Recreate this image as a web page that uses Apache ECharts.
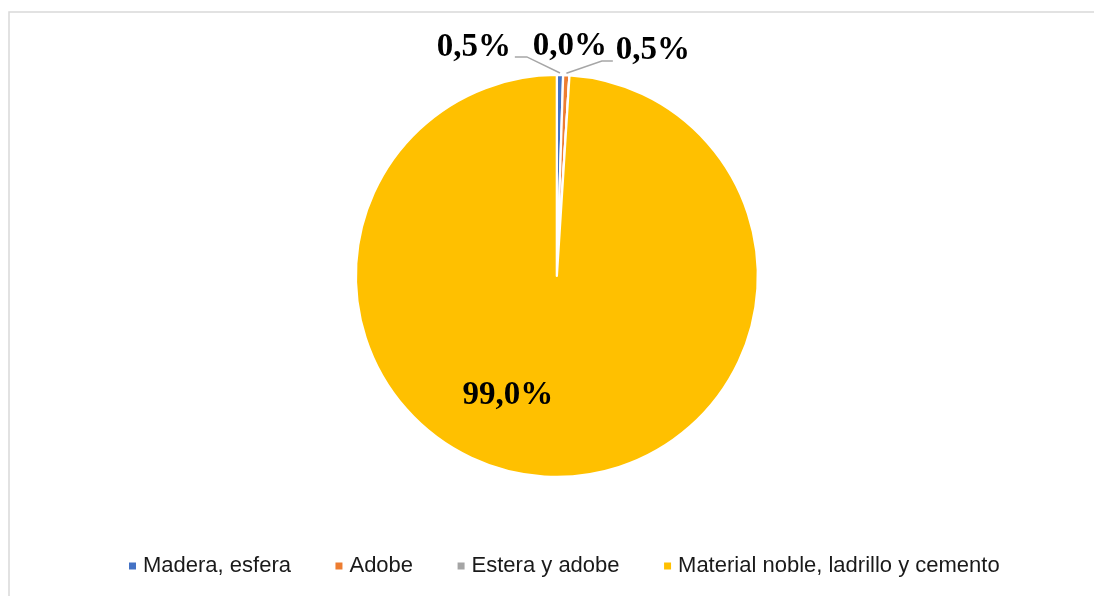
<!DOCTYPE html>
<html>
<head>
<meta charset="utf-8">
<script src="https://cdn.jsdelivr.net/npm/echarts@6/dist/echarts.min.js"></script>
<style>
  html, body { margin: 0; padding: 0; background: #fff; }
  #chart { width: 1094px; height: 596px; }
</style>
</head>
<body>
<div id="chart"></div>
<script>
// Tipo de material de la vivienda (porcentaje)
const categories = ['Madera, esfera', 'Adobe', 'Estera y adobe', 'Material noble, ladrillo y cemento'];
const values = [0.5, 0.5, 0.0, 99.0];
const colors = ['#4472C4', '#ED7D31', '#A5A5A5', '#FFC000'];

// Label placement, as offsets from the pie centre (px)
const labelOffsets = [[-83, -228.5], [96, -225], [13, -229.5], [-49, 119.5]];
// Leader-line elbows and ends, relative to the pie centre
const leaderPaths = {
  0: [[-30, -219], [-42, -219]],
  1: [[45, -215], [56, -215]]
};

const chart = echarts.init(document.getElementById('chart'));
const centerPct = [50.9, 46.3];
const radius = 201;

function pieCenter() {
  return [chart.getWidth() * centerPct[0] / 100, chart.getHeight() * centerPct[1] / 100];
}

function sliceEdge(idx) {
  const total = values.reduce((a, b) => a + b, 0);
  let before = 0;
  for (let i = 0; i < idx; i++) before += values[i];
  const mid = (before + values[idx] / 2) / total * 2 * Math.PI;
  const [cx, cy] = pieCenter();
  return [cx + (radius + 2) * Math.sin(mid), cy - (radius + 2) * Math.cos(mid)];
}

const fmt = v => v.toFixed(1).replace('.', ',') + '%';

chart.setOption({
  animation: false,
  graphic: [{
    type: 'rect',
    shape: { x: 9, y: 12, width: 1110, height: 620 },
    style: { fill: 'none', stroke: '#d9d9d9', lineWidth: 1.5 },
    silent: true
  }],
  color: colors,
  legend: {
    data: categories,
    left: 122,
    top: 550,
    icon: 'rect',
    itemWidth: 9,
    itemHeight: 9,
    itemGap: 42.5,
    textStyle: {
      fontFamily: 'Liberation Sans, Arial, sans-serif',
      fontSize: 22,
      color: '#1a1a1a',
      padding: [0, 0, 0, 1]
    }
  },
  series: [{
    type: 'pie',
    center: [centerPct[0] + '%', centerPct[1] + '%'],
    radius: radius,
    startAngle: 90,
    clockwise: true,
    avoidLabelOverlap: false,
    stillShowZeroSum: true,
    minShowLabelAngle: 0,
    itemStyle: { borderColor: '#ffffff', borderWidth: 2.3 },
    label: {
      show: true,
      position: 'outside',
      formatter: p => fmt(p.value),
      fontFamily: 'Liberation Serif, Times New Roman, serif',
      fontWeight: 'bold',
      fontSize: 33,
      color: '#000000'
    },
    labelLine: {
      show: true,
      length: 10,
      length2: 10,
      lineStyle: { color: '#a6a6a6', width: 1.5 }
    },
    labelLayout: function (params) {
      const i = params.dataIndex;
      const [cx, cy] = pieCenter();
      const off = labelOffsets[i];
      const out = {
        x: cx + off[0],
        y: cy + off[1],
        align: 'center',
        verticalAlign: 'middle'
      };
      if (leaderPaths[i]) {
        out.labelLinePoints = [sliceEdge(i)].concat(
          leaderPaths[i].map(p => [cx + p[0], cy + p[1]])
        );
      } else {
        const e = sliceEdge(i);
        out.labelLinePoints = [e, e, e];
      }
      return out;
    },
    emphasis: { disabled: true },
    data: categories.map((name, i) => ({
      name: name,
      value: values[i],
      label: i === 3 ? { position: 'inside' } : undefined,
      labelLine: i === 3 || i === 2 ? { show: false } : undefined
    }))
  }]
});
</script>
</body>
</html>
